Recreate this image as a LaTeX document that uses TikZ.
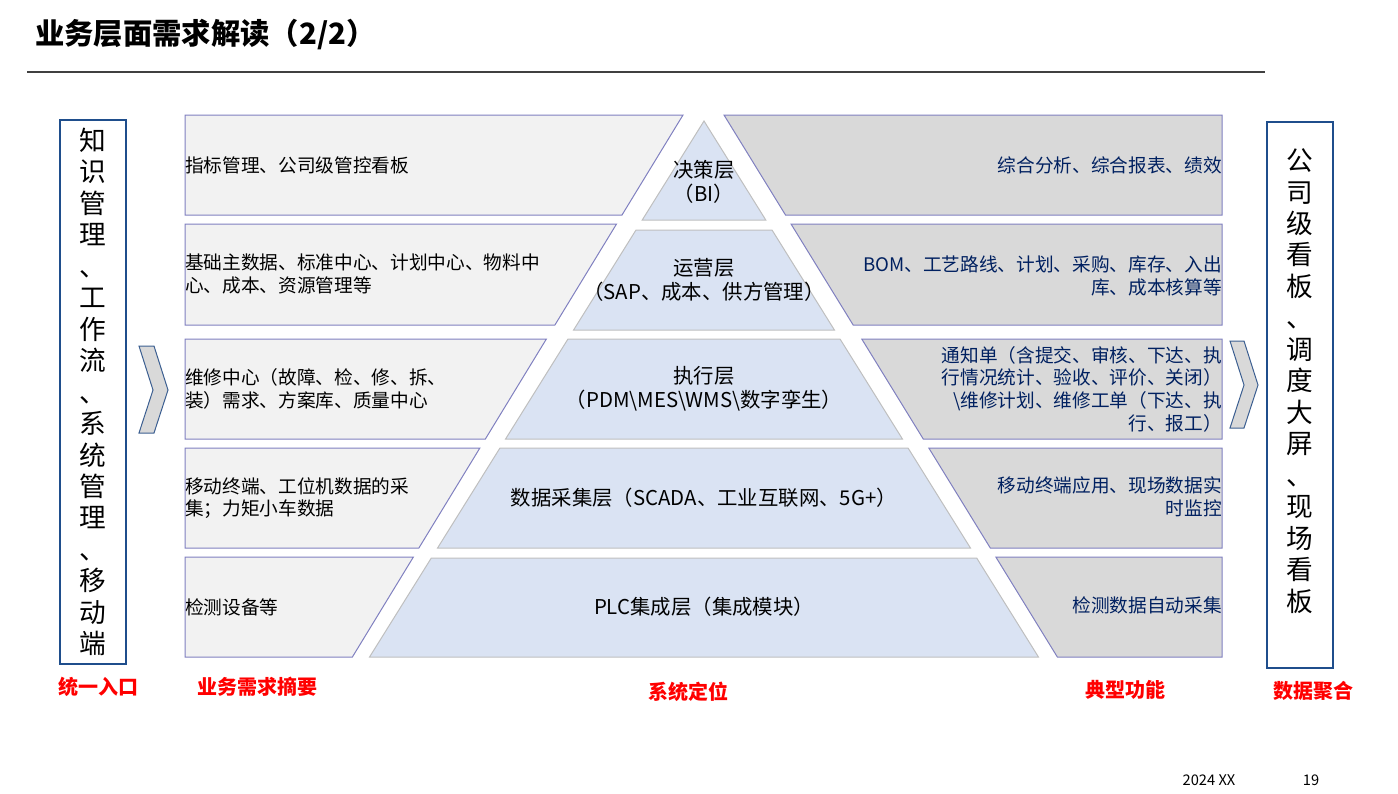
\documentclass[tikz,border=0pt]{standalone}
\usepackage{fontspec}
\setmainfont{Noto Sans CJK SC}
\usepackage{xcolor}
\definecolor{mlpanel}{RGB}{242,242,242}
\definecolor{mlpanelr}{RGB}{217,217,217}
\definecolor{mltier}{RGB}{218,227,243}
\definecolor{mltierline}{RGB}{191,191,191}
\definecolor{mlline}{RGB}{128,128,192}
\definecolor{mlnavy}{RGB}{0,32,96}
\definecolor{mlbox}{RGB}{31,78,140}
\definecolor{mlchev}{RGB}{60,95,145}
\definecolor{mlred}{RGB}{255,0,0}
\usetikzlibrary{calc}

\begin{document}
\begin{tikzpicture}[x=0.75pt, y=-0.75pt,
  lpanel/.style={draw=mlline, fill=mlpanel, line width=0.75pt},
  rpanel/.style={draw=mlline, fill=mlpanelr, line width=0.75pt},
  tier/.style={draw=mltierline, fill=mltier, line width=0.75pt},
  chev/.style={draw=mlchev, fill=mlpanelr, line width=0.75pt},
  sidebox/.style={draw=mlbox, line width=0.9pt},
  ltxt/.style={anchor=west, align=left, inner sep=0pt, font=\fontsize{14}{17}\selectfont},
  rtxt/.style={anchor=east, align=right, inner sep=0pt, text=mlnavy, font=\fontsize{14}{17}\selectfont},
  ptxt/.style={align=center, inner sep=0pt, font=\fontsize{15.3}{18}\selectfont},
  vtxt/.style={align=center, inner sep=0pt, font=\fontsize{20}{23.6}\selectfont},
  ctitle/.style={font=\fontsize{15}{18}\selectfont\bfseries, text=mlred, inner sep=0pt}
]
\useasboundingbox (0,0) rectangle (1398,793);

% Title
\node[anchor=west, inner sep=0pt, font=\fontsize{22}{26}\selectfont\bfseries] (title) at (35,35) {业务层面需求解读（2/2）};
\draw[black!75, line width=1pt] (27,72) -- (1265,72);

% Left panels (business needs)
\foreach \t/\b in {115/215, 224/325, 339/439, 448/548, 557/657}
  \draw[lpanel] (185,\t) -- ({683-0.61*(\t-115)},\t) -- ({683-0.61*(\b-115)},\b) -- (185,\b) -- cycle;

% Right panels (typical functions)
\foreach \t/\b in {115/215, 224/325, 339/439, 448/548, 557/657}
  \draw[rpanel] ({724+0.615*(\t-115)},\t) -- (1222,\t) -- (1222,\b) -- ({724+0.615*(\b-115)},\b) -- cycle;

% Pyramid
\draw[tier] (704,121) -- ({704+0.624*99},220) -- ({704-0.624*99},220) -- cycle;
\foreach \t/\b in {230/330, 339/439, 448/548, 558/657}
  \draw[tier] ({704-0.624*(\t-121)},\t) -- ({704+0.624*(\t-121)},\t) -- ({704+0.624*(\b-121)},\b) -- ({704-0.624*(\b-121)},\b) -- cycle;

\node[ptxt] (t1) at (704,182) {决策层\\（BI）};
\node[ptxt] (t2) at (704,280) {运营层\\（SAP、成本、供方管理）};
\node[ptxt] (t3) at (704,389) {执行层\\（PDM\textbackslash MES\textbackslash WMS\textbackslash 数字孪生）};
\node[ptxt] (t4) at (704,498) {数据采集层（SCADA、工业互联网、5G+）};
\node[ptxt] (t5) at (704,607) {PLC集成层（集成模块）};

% Left panel texts
\node[ltxt] (l1) at (185,165) {指标管理、公司级管控看板};
\node[ltxt] (l2) at (185,274) {基础主数据、标准中心、计划中心、物料中\\心、成本、资源管理等};
\node[ltxt] (l3) at (185,389) {维修中心（故障、检、修、拆、\\装）需求、方案库、质量中心};
\node[ltxt] (l4) at (185,498) {移动终端、工位机数据的采\\集；力矩小车数据};
\node[ltxt] (l5) at (185,607) {检测设备等};

% Right panel texts
\node[rtxt] (r1) at (1222,165) {综合分析、综合报表、绩效};
\node[rtxt] (r2) at (1222,276) {BOM、工艺路线、计划、采购、库存、入出\\库、成本核算等};
\node[rtxt] (r3) at (1222,389) {通知单（含提交、审核、下达、执\\行情况统计、验收、评价、关闭）\\ \textbackslash 维修计划、维修工单（下达、执\\行、报工）};
\node[rtxt] (r4) at (1222,497) {移动终端应用、现场数据实\\时监控};
\node[rtxt] (r5) at (1222,605) {检测数据自动采集};

% Side boxes
\draw[sidebox] (60,120) rectangle (126,664);
\node[vtxt] (entry) at (93,392) {知\\识\\管\\理\\、\\工\\作\\流\\、\\系\\统\\管\\理\\、\\移\\动\\端};
\draw[sidebox] (1267,122) rectangle (1333,668);
\node[vtxt] (board) at (1300,381) {公\\司\\级\\看\\板\\、\\调\\度\\大\\屏\\、\\现\\场\\看\\板};

% Chevrons
\draw[chev] (139,346) -- (154,346) -- (168,390) -- (154,433) -- (139,433) -- (153,390) -- cycle;
\draw[chev] (1230,341) -- (1244,341) -- (1258,385) -- (1244,428) -- (1230,428) -- (1244,385) -- cycle;

% Captions
\node[ctitle] (c1) at (98,687) {统一入口};
\node[ctitle] (c2) at (257,687) {业务需求摘要};
\node[ctitle] (c3) at (688,692) {系统定位};
\node[ctitle] (c4) at (1125,690) {典型功能};
\node[ctitle] (c5) at (1313,691) {数据聚合};

% Footer
\node[font=\fontsize{11}{13}\selectfont, inner sep=0pt] (date) at (1209,780) {2024 XX};
\node[font=\fontsize{11}{13}\selectfont, inner sep=0pt] (page) at (1311,780) {19};
\end{tikzpicture}
\end{document}
